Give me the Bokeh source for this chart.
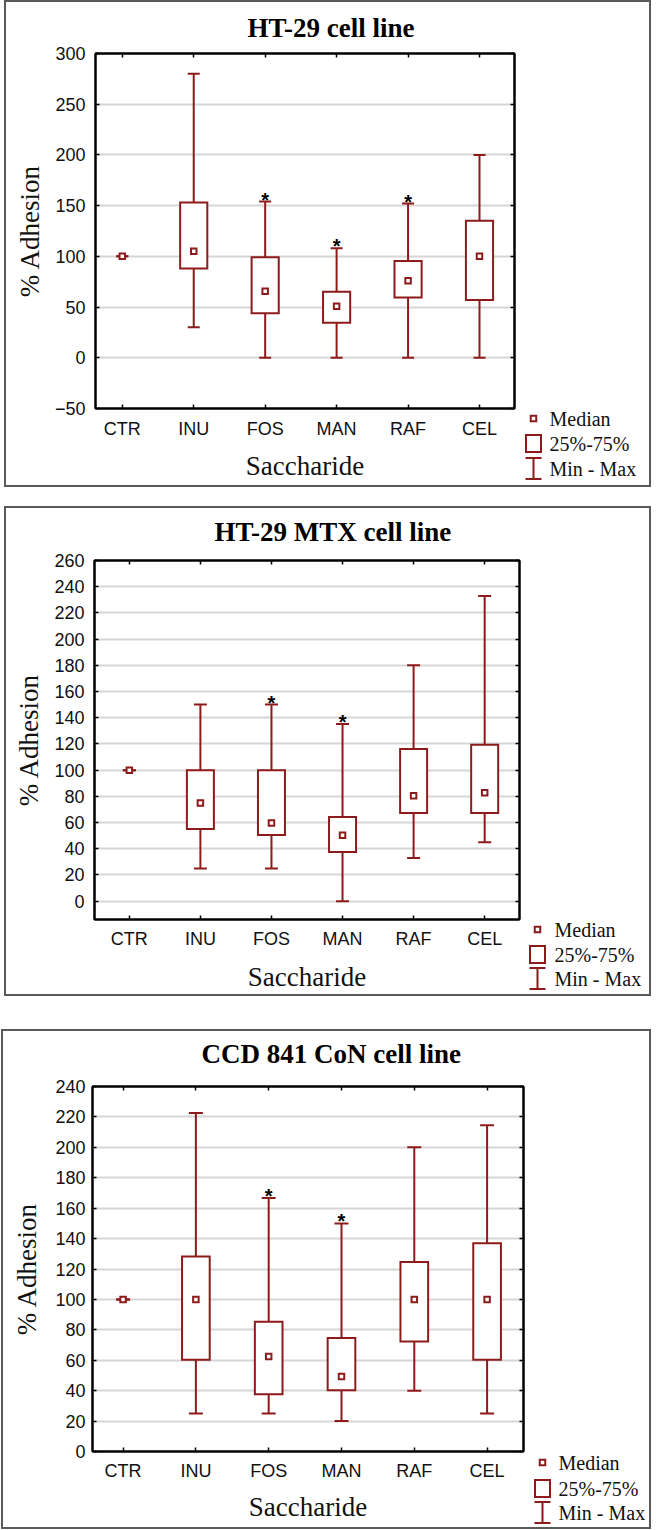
from bokeh.plotting import figure
from bokeh.models import Range1d, FixedTicker, LinearAxis, ColumnDataSource
from bokeh.layouts import column, row
from bokeh.embed import file_html
from bokeh.resources import INLINE
from bokeh.core.properties import value

# ---------------- data ----------------
categories = ["CTR", "INU", "FOS", "MAN", "RAF", "CEL"]

ht29_min = [100, 30, 0, 0, 0, 0]
ht29_q1 = [100, 88, 44, 34.5, 59.5, 57]
ht29_med = [100, 105, 65.5, 50.7, 76, 100]
ht29_q3 = [100, 153, 99, 65, 95.5, 135]
ht29_max = [100, 280, 154, 108, 152, 200]
ht29_star = ["FOS", "MAN", "RAF"]
ht29_yticks = [-50, 0, 50, 100, 150, 200, 250, 300]

mtx_min = [100, 25, 25, 0, 33, 45]
mtx_q1 = [100, 55, 50.5, 37.5, 67.3, 67.3]
mtx_med = [100, 75, 59.6, 50.3, 80.5, 82.7]
mtx_q3 = [100, 100, 100, 64.2, 116.2, 119.3]
mtx_max = [100, 150, 150, 135.3, 180, 233]
mtx_star = ["FOS", "MAN"]
mtx_yticks = [0, 20, 40, 60, 80, 100, 120, 140, 160, 180, 200, 220, 240, 260]

ccd_min = [100, 25, 25, 20, 40, 25]
ccd_q1 = [100, 60.4, 37.7, 40.2, 72.4, 60.4]
ccd_med = [100, 100, 62.4, 49.3, 100, 100]
ccd_q3 = [100, 128.3, 85.3, 74.6, 124.6, 137]
ccd_max = [100, 222.5, 166.7, 150, 200, 214.5]
ccd_star = ["FOS", "MAN"]
ccd_yticks = [0, 20, 40, 60, 80, 100, 120, 140, 160, 180, 200, 220, 240]

legend_labels = ["Median", "25%-75%", "Min - Max"]

# ---------------- style ----------------
RED = "#8e1b1b"
SERIF = "Liberation Serif"
SANS = "Liberation Sans"
FRAME = "#5a5a5a"


def make_main(title, mins, q1, med, q3, maxs, stars, yticks, cfg):
    p = figure(width=cfg["Wm"], height=cfg["H"], x_range=Range1d(*cfg["xr"]),
               y_range=Range1d(*cfg["yr"]), output_backend="svg", toolbar_location=None,
               min_border_left=cfg["bl"], min_border_right=cfg["br"],
               min_border_top=cfg["bt"], min_border_bottom=cfg["bb"],
               background_fill_color="white", border_fill_color="white")
    p.outline_line_color = "black"
    p.outline_line_width = 2

    xs = list(range(len(categories)))

    p.title.text = title
    p.title.text_font = SERIF
    p.title.text_font_size = "27px"
    p.title.text_font_style = "bold"
    p.title.text_color = "black"
    p.title.align = "left"
    p.title.offset = cfg["toff"]
    p.title.standoff = 0

    xa = p.xaxis[0]
    xa.ticker = FixedTicker(ticks=xs)
    xa.major_label_overrides = {i: c for i, c in enumerate(categories)}
    ya = p.yaxis[0]
    ya.ticker = FixedTicker(ticks=yticks)
    for ax in (xa, ya):
        ax.major_label_text_font = SANS
        ax.major_label_text_font_size = "18px"
        ax.major_label_text_color = "#111111"
        ax.major_tick_in = 4
        ax.major_tick_out = 0
        ax.major_tick_line_width = 1.5
        ax.minor_tick_line_color = None
        ax.axis_line_width = 2
        ax.axis_label_text_font = SERIF
        ax.axis_label_text_font_size = "27px"
        ax.axis_label_text_font_style = "normal"
        ax.axis_label_text_color = "#111111"
    xa.axis_label = "Saccharide"
    xa.major_label_standoff = cfg["xls"]
    xa.axis_label_standoff = cfg["xas"]
    ya.axis_label = "% Adhesion"
    ya.major_label_standoff = cfg["yls"]
    ya.axis_label_standoff = cfg["yas"]

    top_ax = LinearAxis(ticker=FixedTicker(ticks=xs),
                        major_label_overrides={i: "" for i in xs})
    right_ax = LinearAxis(ticker=FixedTicker(ticks=yticks),
                          major_label_overrides={t: "" for t in yticks})
    for ax in (top_ax, right_ax):
        ax.major_tick_in = 4
        ax.major_tick_out = 0
        ax.major_tick_line_width = 1.5
        ax.minor_tick_line_color = None
        ax.major_label_standoff = 0
        ax.axis_line_width = 2
    # blank axis label on the top axis keeps a gap between title and frame
    top_ax.axis_label = " "
    top_ax.axis_label_text_font_size = "1px"
    top_ax.axis_label_standoff = cfg["tgap"]
    p.add_layout(top_ax, "above")
    p.add_layout(right_ax, "right")

    p.xgrid.grid_line_color = None
    p.ygrid.ticker = FixedTicker(ticks=yticks)
    p.ygrid.grid_line_color = "#d6d6d6"
    p.ygrid.grid_line_width = 2

    src = ColumnDataSource(dict(x=xs, lo=mins, q1=q1, med=med, q3=q3, hi=maxs))
    p.segment(x0="x", y0="lo", x1="x", y1="hi", source=src, line_color=RED, line_width=2)
    p.scatter(x="x", y="lo", marker="dash", size=cfg["cap"], line_color=RED, line_width=2, source=src)
    p.scatter(x="x", y="hi", marker="dash", size=cfg["cap"], line_color=RED, line_width=2, source=src)

    keep = [i for i in xs if q3[i] > q1[i]]
    bsrc = ColumnDataSource(dict(x=[xs[i] for i in keep], q1=[q1[i] for i in keep],
                                 q3=[q3[i] for i in keep]))
    p.vbar(x="x", width=0.38, bottom="q1", top="q3", source=bsrc, fill_color="white",
           line_color=RED, line_width=2, line_join="miter")
    p.scatter(x="x", y="med", marker="square", size=5.5, fill_color="white",
              line_color=RED, line_width=2, line_join="miter", source=src)

    sidx = [categories.index(s) for s in stars]
    p.text(x=[xs[i] for i in sidx], y=[maxs[i] for i in sidx], text=["*"] * len(sidx),
           text_font=value(SANS), text_font_size="20px", text_font_style="bold",
           text_align="center", text_baseline="alphabetic", y_offset=-2, text_color="black")
    return p


def make_legend(cfg):
    Wl, H = cfg["Wl"], cfg["H"]
    q = figure(width=Wl, height=H, x_range=Range1d(0, Wl), y_range=Range1d(H, 0),
               output_backend="svg", toolbar_location=None, min_border=0,
               x_axis_location=None, y_axis_location=None,
               background_fill_color="white", border_fill_color="white")
    q.outline_line_color = None
    q.grid.visible = False
    cx, tx = cfg["lx"], cfg["tx"]
    r1, r2, r3 = cfg["rows"]
    q.scatter([cx], [r1], marker="square", size=5.5, fill_color="white",
              line_color=RED, line_width=2, line_join="miter")
    q.rect([cx], [r2], width=15, height=17, width_units="screen", height_units="screen",
           fill_color="white", line_color=RED, line_width=2, line_join="miter")
    q.segment([cx], [r3 - 10.5], [cx], [r3 + 10.5], line_color=RED, line_width=2)
    q.scatter([cx, cx], [r3 - 10.5, r3 + 10.5], marker="dash", size=16,
              line_color=RED, line_width=2)
    q.text([tx] * 3, [r1, r2, r3], text=legend_labels, text_font=value(SERIF),
           text_font_size="20px", text_color="#111111", text_align="left",
           text_baseline="middle")
    return q


def make_panel(title, mins, q1, med, q3, maxs, stars, yticks, cfg):
    main = make_main(title, mins, q1, med, q3, maxs, stars, yticks, cfg)
    leg = make_legend(cfg)
    return column(row(main, column(leg), spacing=0), margin=(cfg["mt"], 0, 0, cfg["ml"]),
                  styles={"border": "2px solid " + FRAME})


cfg1 = dict(mt=0, ml=4, H=483, Wm=514, Wl=129, xr=(-0.375, 5.49), yr=(-50, 300),
            bl=89, br=6, bt=51, bb=77, toff=152, tgap=7,
            xls=10, xas=9, yls=10, yas=7, cap=12,
            lx=13, tx=29, rows=(416, 441, 466))
cfg2 = dict(mt=19, ml=4, H=486, Wm=519, Wl=124, xr=(-0.49, 5.49), yr=(-14, 260),
            bl=88, br=6, bt=52, bb=75, toff=120, tgap=10,
            xls=9, xas=10, yls=10, yas=7, cap=13,
            lx=12, tx=29, rows=(421, 446, 470))
cfg3 = dict(mt=33, ml=1, H=496, Wm=526, Wl=120, xr=(-0.42, 5.5), yr=(0, 240),
            bl=89, br=6, bt=55, bb=76, toff=109, tgap=14,
            xls=9, xas=8, yls=7, yas=10, cap=14,
            lx=13, tx=29, rows=(431, 457, 481))

panel1 = make_panel("HT-29 cell line", ht29_min, ht29_q1, ht29_med, ht29_q3, ht29_max,
                    ht29_star, ht29_yticks, cfg1)
panel2 = make_panel("HT-29 MTX cell line", mtx_min, mtx_q1, mtx_med, mtx_q3, mtx_max,
                    mtx_star, mtx_yticks, cfg2)
panel3 = make_panel("CCD 841 CoN cell line", ccd_min, ccd_q1, ccd_med, ccd_q3, ccd_max,
                    ccd_star, ccd_yticks, cfg3)

layout = column(panel1, panel2, panel3, spacing=0)
open("out.html", "w").write(file_html(layout, INLINE))
